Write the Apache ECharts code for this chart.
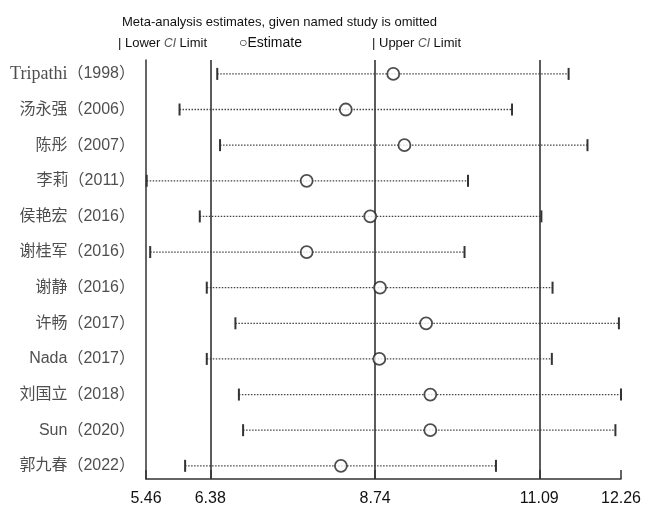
<!DOCTYPE html>
<html>
<head>
<meta charset="utf-8">
<script src="https://cdn.jsdelivr.net/npm/echarts@6/dist/echarts.min.js"></script>
<style>
html,body{margin:0;padding:0;background:#fff;}
#chart{width:654px;height:518px;}
</style>
</head>
<body>
<div id="chart"></div>
<script>
var studies = ['Tripathi（1998）','汤永强（2006）','陈彤（2007）','李莉（2011）','侯艳宏（2016）','谢桂军（2016）','谢静（2016）','许畅（2017）','Nada（2017）','刘国立（2018）','Sun（2020）','郭九春（2022）'];
var lowerCI  = [6.48, 5.94, 6.52, 5.47, 6.23, 5.52, 6.33, 6.74, 6.33, 6.79, 6.85, 6.02];
var estimate = [9.00, 8.32, 9.16, 7.76, 8.67, 7.76, 8.81, 9.47, 8.80, 9.53, 9.53, 8.25];
var upperCI  = [11.51, 10.70, 11.78, 10.07, 11.12, 10.02, 11.28, 12.23, 11.27, 12.26, 12.18, 10.47];
var xTicks = [5.46, 6.38, 8.74, 11.09, 12.26];
var refLines = [6.38, 8.74, 11.09];
var xMin = 5.46, xMax = 12.26;

var chart = echarts.init(document.getElementById('chart'));
var dark = '#333';
var fontSans = 'Liberation Sans, Arial, Noto Sans CJK SC, sans-serif';

var ciData = studies.map(function(s, i){ return [lowerCI[i], upperCI[i], i]; });
var estData = studies.map(function(s, i){ return [estimate[i], i]; });
var labelData = studies.map(function(s, i){ return {value:[xMin, i], name:s}; });

chart.setOption({
  animation: false,
  backgroundColor: '#fff',
  grid: {left: 146, right: 33, top: 60, bottom: 39},
  title: {
    text: 'Meta-analysis estimates, given named study is omitted',
    left: 122, top: 16, padding: 0,
    textStyle: {fontFamily: fontSans, fontSize: 13, fontWeight: 'normal', color: '#111'}
  },
  graphic: [
    {type:'text', left:118, top:37, style:{text:'| Lower {i|CI} Limit', fontFamily:fontSans, fontSize:13, fill:'#111',
      rich:{i:{fontStyle:'italic', fontSize:12, fill:'#555', fontFamily:fontSans}}}},
    {type:'text', left:239, top:36, style:{text:'○Estimate', fontFamily:fontSans, fontSize:14, fill:'#111'}},
    {type:'text', left:372, top:37, style:{text:'| Upper {i|CI} Limit', fontFamily:fontSans, fontSize:13, fill:'#111',
      rich:{i:{fontStyle:'italic', fontSize:12, fill:'#555', fontFamily:fontSans}}}}
  ],
  xAxis: {
    type: 'value', min: xMin, max: xMax, position: 'bottom',
    splitLine: {show: false},
    axisLine: {show: true, onZero: false, lineStyle: {color: dark, width: 1.5}},
    axisTick: {show: true, inside: true, length: 9, customValues: xTicks, lineStyle: {color: dark, width: 1.5}},
    axisLabel: {customValues: xTicks, fontFamily: fontSans, fontSize: 16, color: '#111', margin: 12,
      formatter: function(v){ return v.toFixed(2); }}
  },
  yAxis: {
    type: 'value', inverse: true, min: -0.39, max: 11.37,
    splitLine: {show: false},
    axisLine: {show: true, onZero: false, lineStyle: {color: dark, width: 1.5}},
    axisTick: {show: false},
    axisLabel: {show: false}
  },
  series: [
    {
      type: 'custom',
      name: 'CI',
      data: ciData,
      encode: {x: [0, 1], y: 2},
      renderItem: function(params, api){
        var p1 = api.coord([api.value(0), api.value(2)]);
        var p2 = api.coord([api.value(1), api.value(2)]);
        var h = 6;
        return {type:'group', children:[
          {type:'line', shape:{x1:p1[0], y1:p1[1], x2:p2[0], y2:p2[1]},
            style:{stroke:'#444', lineWidth:1.3, lineDash:[1.5,1.5]}},
          {type:'line', shape:{x1:p1[0], y1:p1[1]-h, x2:p1[0], y2:p1[1]+h},
            style:{stroke:dark, lineWidth:2}},
          {type:'line', shape:{x1:p2[0], y1:p2[1]-h, x2:p2[0], y2:p2[1]+h},
            style:{stroke:dark, lineWidth:2}}
        ]};
      },
      markLine: {
        silent: true, symbol: 'none', label: {show: false},
        lineStyle: {color: dark, width: 1.6, type: 'solid'},
        data: refLines.map(function(v){ return {xAxis: v}; })
      },
      z: 2
    },
    {
      type: 'scatter',
      name: 'Estimate',
      data: estData,
      symbol: 'circle',
      symbolSize: 12,
      itemStyle: {color: '#fff', borderColor: '#222', borderWidth: 1.8},
      z: 5
    },
    {
      type: 'scatter',
      name: 'labels',
      data: labelData,
      symbolSize: 0,
      silent: true,
      label: {
        show: true, position: 'left', distance: 11,
        fontFamily: fontSans, fontSize: 16, color: '#222',
        formatter: function(p){
          var n = p.name;
          if (n.indexOf('Tripathi') === 0) return '{s|Tripathi}' + n.slice(8);
          return n;
        },
        rich: {s: {fontFamily: 'Liberation Serif, Times New Roman, serif', fontSize: 18, color: '#222'}}
      }
    }
  ]
});
</script>
</body>
</html>
